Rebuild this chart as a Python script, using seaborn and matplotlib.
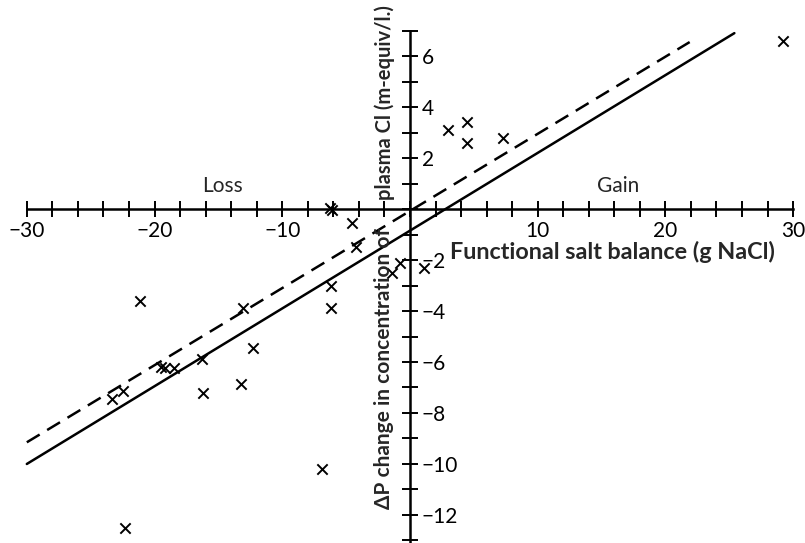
import numpy as np
import pandas as pd
import matplotlib
matplotlib.use("Agg")
import matplotlib.pyplot as plt
import seaborn as sns

# ---- data ----
salt_balance = [29.2, 3.0, 4.5, 4.5, 7.3,
                -6.3, -6.1, -4.5, -4.2, -6.2, -6.2,
                -1.4, -0.8, 1.1,
                -21.1, -13.1, -12.3, -16.3, -18.5, -19.5, -19.2,
                -22.5, -23.3, -16.2, -13.2, -6.9, -22.3]
delta_plasma_cl = [6.6, 3.1, 3.4, 2.6, 2.8,
                   0.05, -0.05, -0.55, -1.5, -3.0, -3.9,
                   -2.5, -2.1, -2.3,
                   -3.6, -3.9, -5.45, -5.9, -6.25, -6.2, -6.25,
                   -7.15, -7.45, -7.2, -6.85, -10.2, -12.5]

solid_x = [-30.0, 25.4]
solid_y = [-10.0, 6.9]
dashed_x = [-30.0, 21.9]
dashed_y = [-9.15, 6.55]

x_ticks = list(range(-30, 31, 2))
x_labelled = [-30, -20, -10, 10, 20, 30]
y_ticks = list(range(-13, 8))
y_labelled = [-12, -10, -8, -6, -4, -2, 2, 4, 6]

x_label = "Functional salt balance (g NaCl)"
y_label_low = "ΔP change in concentration of"
y_label_high = "plasma Cl (m-equiv/l.)"
region_labels = ["Loss", "Gain"]
region_pos = [-14.7, 16.3]

# ---- figure ----
sns.set_theme(style="white")
plt.rcParams["font.family"] = ["Lato", "DejaVu Sans"]
plt.rcParams["axes.unicode_minus"] = True

fig = plt.figure(figsize=(8.05, 5.43), dpi=100)
ax = fig.add_axes([0, 0, 1, 1])
ax.set_facecolor("white")

pts = pd.DataFrame({"x": salt_balance, "y": delta_plasma_cl})
sns.scatterplot(data=pts, x="x", y="y", marker="x", color="black",
                s=55, linewidth=1.4, ax=ax, zorder=3)
sns.lineplot(x=solid_x, y=solid_y, color="black", linewidth=1.8, ax=ax)
sns.lineplot(x=dashed_x, y=dashed_y, color="black", linewidth=1.8,
             linestyle=(0, (6, 3.5)), ax=ax)

ax.set_xlim(-32.1, 30.93)
ax.set_ylim(-13.1, 8.2)

for s in ["left", "top"]:
    ax.spines[s].set_visible(False)
for s in ["bottom", "right"]:
    ax.spines[s].set_visible(True)
    ax.spines[s].set_color("black")
    ax.spines[s].set_linewidth(1.8)
ax.spines["bottom"].set_position(("data", 0))
ax.spines["right"].set_position(("data", 0))
ax.spines["bottom"].set_bounds(-30, 30)
ax.spines["right"].set_bounds(-13.1, 7)

ax.xaxis.set_ticks_position("bottom")
ax.yaxis.set_ticks_position("right")
ax.set_xticks(x_ticks)
ax.set_xticklabels([("\u2212" + str(-v) if v < 0 else str(v)) if v in x_labelled else ""
                    for v in x_ticks])
ax.set_yticks(y_ticks)
ax.set_yticklabels([("\u2212" + str(-v) if v < 0 else str(v)) if v in y_labelled else ""
                    for v in y_ticks])
ax.tick_params(axis="both", direction="inout", length=11, width=1.4,
               colors="black", labelsize=15, pad=3)
ax.set_xlabel("")
ax.set_ylabel("")

ax.text(3.15, -1.7, x_label, fontsize=16.8, fontweight="bold", ha="left", va="center")
ax.text(-2.0, -11.75, y_label_low, fontsize=15, fontweight="bold", rotation=90,
        ha="center", va="bottom")
ax.text(-2.0, 0.35, y_label_high, fontsize=14.5, fontweight="bold", rotation=90,
        ha="center", va="bottom")
for lab, xp in zip(region_labels, region_pos):
    ax.text(xp, 0.9, lab, fontsize=15, ha="center", va="center")

fig.savefig("out.png", dpi=100, facecolor="white")
